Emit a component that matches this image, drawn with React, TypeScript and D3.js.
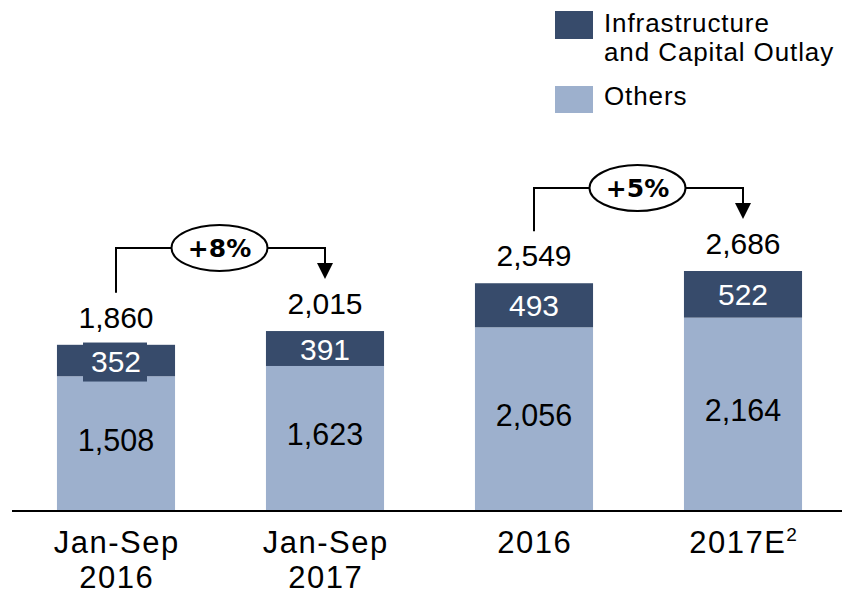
import React, { useEffect, useRef } from 'react';
import * as d3 from 'd3';

// values
const categories = ['Jan-Sep 2016', 'Jan-Sep 2017', '2016', '2017E'];
const axisLines = [['Jan-Sep', '2016'], ['Jan-Sep', '2017'], ['2016'], ['2017E']];
const others = [1508, 1623, 2056, 2164];
const infra = [352, 391, 493, 522];
const totals = [1860, 2015, 2549, 2686];
const growth = [
  { from: 0, to: 1, label: '+8%' },
  { from: 2, to: 3, label: '+5%' },
];

const DARK = '#374b6b';
const LIGHT = '#9db0cd';
const FONT = '"Liberation Sans", Arial, sans-serif';

export default function App() {
  const ref = useRef<SVGSVGElement>(null);

  useEffect(() => {
    const svg = d3.select(ref.current);
    svg.selectAll('*').remove();

    const baseY = 511;
    const x = d3
      .scaleBand()
      .domain(categories)
      .range([11.5, 847.5])
      .paddingInner(0.435)
      .paddingOuter(0.2175);
    const y = d3.scaleLinear().domain([0, 2686]).range([baseY, 271]);
    const bw = x.bandwidth();
    const cx = (i: number) => x(categories[i])! + bw / 2;

    const g = svg.append('g');

    // light segment (Others)
    g.selectAll('.others')
      .data(others)
      .enter()
      .append('rect')
      .attr('x', (d, i) => x(categories[i])!)
      .attr('y', (d) => y(d))
      .attr('width', bw)
      .attr('height', (d) => baseY - y(d))
      .attr('fill', LIGHT);

    // dark segment (Infrastructure)
    g.selectAll('.infra')
      .data(infra)
      .enter()
      .append('rect')
      .attr('x', (d, i) => x(categories[i])!)
      .attr('y', (d, i) => y(others[i] + d))
      .attr('width', bw)
      .attr('height', (d, i) => y(others[i]) - y(others[i] + d))
      .attr('fill', DARK);

    // label box on the first small segment sticks out a little
    const i0 = 0;
    const m0 = (y(others[i0]) + y(others[i0] + infra[i0])) / 2;
    g.append('rect')
      .attr('x', cx(i0) - 33)
      .attr('y', m0 - 18)
      .attr('width', 64)
      .attr('height', 39)
      .attr('fill', DARK);

    g.selectAll('.othersLabel')
      .data(others)
      .enter()
      .append('text')
      .attr('x', (d, i) => cx(i))
      .attr('y', (d) => (y(d) + baseY) / 2 + 7)
      .attr('text-anchor', 'middle')
      .attr('font-family', FONT)
      .attr('font-size', 30.5)
      .attr('fill', '#000')
      .text((d) => d3.format(',')(d));

    g.selectAll('.infraLabel')
      .data(infra)
      .enter()
      .append('text')
      .attr('x', (d, i) => cx(i))
      .attr('y', (d, i) => (y(others[i]) + y(others[i] + d)) / 2 + 11)
      .attr('text-anchor', 'middle')
      .attr('font-family', FONT)
      .attr('font-size', 30)
      .attr('fill', '#fff')
      .text((d) => d);

    g.selectAll('.totalLabel')
      .data(totals)
      .enter()
      .append('text')
      .attr('x', (d, i) => cx(i))
      .attr('y', (d) => y(d) - 17)
      .attr('text-anchor', 'middle')
      .attr('font-family', FONT)
      .attr('font-size', 30)
      .attr('fill', '#000')
      .text((d) => d3.format(',')(d));

    // baseline
    g.append('line')
      .attr('x1', 12)
      .attr('x2', 842)
      .attr('y1', baseY)
      .attr('y2', baseY)
      .attr('stroke', '#000')
      .attr('stroke-width', 2);

    // category labels
    axisLines.forEach((lines, i) => {
      lines.forEach((t, j) => {
        const txt = g
          .append('text')
          .attr('x', cx(i) + 0.8)
          .attr('y', 553 + j * 35)
          .attr('text-anchor', 'middle')
          .attr('font-family', FONT)
          .attr('font-size', 31)
          .attr('letter-spacing', 1.5)
          .attr('fill', '#000');
        if (t === '2017E') {
          txt.append('tspan').text('2017E');
          txt.append('tspan').attr('font-size', 19).attr('dy', -12).text('2');
        } else {
          txt.text(t);
        }
      });
    });

    // growth brackets
    growth.forEach((gr) => {
      const x1 = cx(gr.from);
      const x2 = cx(gr.to);
      const yTop = y(Math.max(totals[gr.from], totals[gr.to])) - 83;
      const yStart = y(totals[gr.from]) - 52;
      const yEnd = y(totals[gr.to]) - 52;
      g.append('path')
        .attr('d', `M${x1},${yStart}V${yTop}H${x2}V${yEnd - 14}`)
        .attr('fill', 'none')
        .attr('stroke', '#000')
        .attr('stroke-width', 2);
      g.append('path')
        .attr('d', `M${x2 - 8},${yEnd - 16}L${x2 + 8},${yEnd - 16}L${x2},${yEnd}Z`)
        .attr('fill', '#000');
      const ex = (x1 + x2) / 2 - 1;
      g.append('ellipse')
        .attr('cx', ex)
        .attr('cy', yTop)
        .attr('rx', 48)
        .attr('ry', 23)
        .attr('fill', '#fff')
        .attr('stroke', '#000')
        .attr('stroke-width', 2);
      g.append('text')
        .attr('x', ex)
        .attr('y', yTop + 9)
        .attr('text-anchor', 'middle')
        .attr('font-family', '"DejaVu Sans", sans-serif')
        .attr('font-weight', 'bold')
        .attr('font-size', 25)
        .attr('fill', '#000')
        .text(gr.label);
    });

    // legend
    const leg = svg.append('g');
    leg.append('rect').attr('x', 555).attr('y', 11).attr('width', 38).attr('height', 28).attr('fill', DARK);
    leg.append('rect').attr('x', 555).attr('y', 86).attr('width', 38).attr('height', 27).attr('fill', LIGHT);
    [
      { t: 'Infrastructure', y: 32 },
      { t: 'and Capital Outlay', y: 61 },
      { t: 'Others', y: 105 },
    ].forEach((l) => {
      leg
        .append('text')
        .attr('x', 604)
        .attr('y', l.y)
        .attr('font-family', FONT)
        .attr('font-size', 26)
        .attr('letter-spacing', 0.9)
        .attr('fill', '#000')
        .text(l.t);
    });
  }, []);

  return (
    <svg
      ref={ref}
      width={842}
      height={595}
      style={{ position: 'absolute', left: 0, top: 0, background: '#fff' }}
    />
  );
}
